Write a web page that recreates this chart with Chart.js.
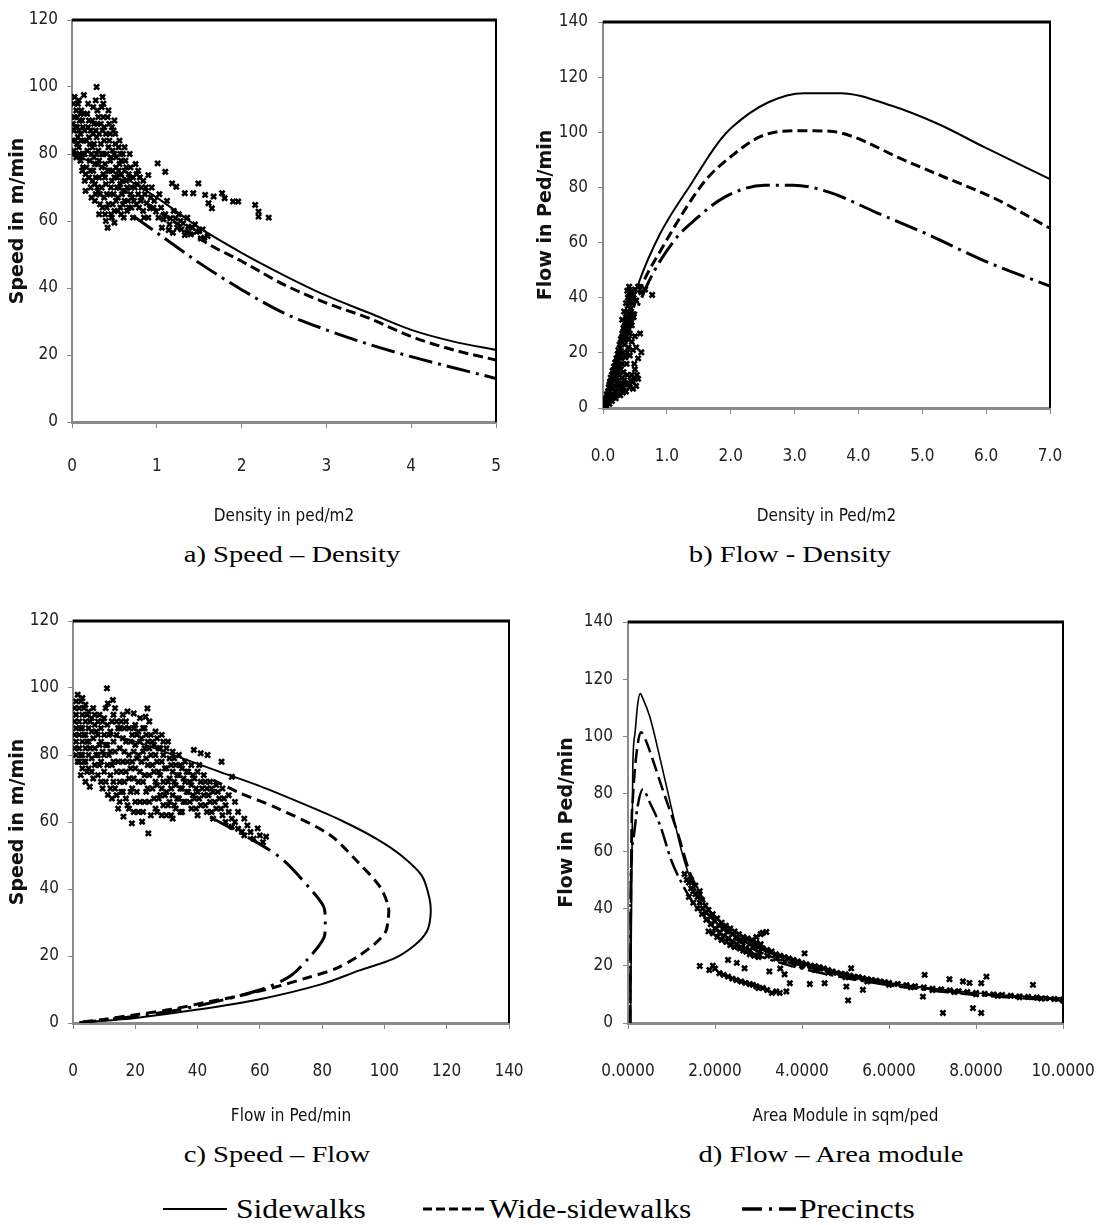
<!DOCTYPE html>
<html><head><meta charset="utf-8">
<script src="https://cdn.jsdelivr.net/npm/chart.js@4.4.1/dist/chart.umd.min.js"></script>
<style>
html,body{margin:0;padding:0;background:#fff;}
body{width:1096px;height:1225px;position:relative;overflow:hidden;}
canvas{position:absolute;}
.cap{position:absolute;font-family:'Liberation Serif','Times New Roman',serif;font-size:24px;line-height:28px;color:#000;white-space:nowrap;}
.cap span{display:inline-block;transform:translateX(-50%) scaleX(1.19);}
.leg{position:absolute;top:1194px;font-family:'Liberation Serif','Times New Roman',serif;font-size:27px;line-height:30px;color:#000;white-space:nowrap;transform:scaleX(1.17);transform-origin:left center;}
svg{position:absolute;}
</style></head><body>
<canvas id="ca" width="535" height="532" style="left:0;top:0;width:535px;height:532px"></canvas>
<canvas id="cb" width="570" height="532" style="left:535px;top:0;width:570px;height:532px"></canvas>
<canvas id="cc" width="562" height="532" style="left:0;top:600px;width:562px;height:532px"></canvas>
<canvas id="cd" width="598" height="532" style="left:535px;top:600px;width:598px;height:532px"></canvas>
<div class="cap" style="left:292px;top:540px"><span>a) Speed – Density</span></div>
<div class="cap" style="left:790px;top:540px"><span>b) Flow - Density</span></div>
<div class="cap" style="left:277px;top:1140px"><span>c) Speed – Flow</span></div>
<div class="cap" style="left:831px;top:1140px"><span>d) Flow – Area module</span></div>
<svg style="left:160px;top:1201px" width="80" height="16"><line x1="3" y1="8" x2="67" y2="8" stroke="#000" stroke-width="2"/></svg>
<div class="leg" style="left:236px">Sidewalks</div>
<svg style="left:420px;top:1201px" width="80" height="16"><line x1="3" y1="8" x2="67" y2="8" stroke="#000" stroke-width="3" stroke-dasharray="9 4"/></svg>
<div class="leg" style="left:489px">Wide-sidewalks</div>
<svg style="left:740px;top:1201px" width="70" height="16"><line x1="2" y1="8" x2="56" y2="8" stroke="#000" stroke-width="3.5" stroke-dasharray="20 7 3 7"/></svg>
<div class="leg" style="left:799px">Precincts</div>
<script>
// ---------- tick values ----------
const aXTicks = [0,1,2,3,4,5];
const aYTicks = [0,20,40,60,80,100,120];
const bXTicks = [0,1,2,3,4,5,6,7];
const bYTicks = [0,20,40,60,80,100,120,140];
const cXTicks = [0,20,40,60,80,100,120,140];
const cYTicks = [0,20,40,60,80,100,120];
const dXTicks = [0,2,4,6,8,10];
const dYTicks = [0,20,40,60,80,100,120,140];

// ---------- a) Speed - Density ----------
const aSideDensity = [0,0.5,1,1.5,2,2.5,3,3.5,4,4.5,5];
const aSideSpeed   = [80,74.5,67,58,50.5,43.8,37.7,32.6,27.5,24,21.5];
const aWideDensity = [0.9,1.25,1.63,2,2.5,3,3.5,4,4.5,5];
const aWideSpeed   = [65,59,52.8,48,41,35.5,31,25.5,21.5,18.5];
const aPrecDensity = [0.72,1,1.5,2,2.5,3,3.5,4,4.5,5];
const aPrecSpeed   = [61.5,56.5,47.5,39.5,32.5,27.5,23.2,19.5,16.2,13];
const aObserved = [
[0.02,95],[0.03,91],[0.02,87],[0.04,84],[0.02,81],[0.05,93],[0.06,88],[0.07,85],[0.05,79],[0.08,96],[0.09,90],[0.1,86],[0.08,82],[0.1,78],[0.12,75],[0.11,93],[0.13,88],[0.14,84],[0.13,80],[0.15,72],[0.16,69],[0.17,76],[0.14,97.6],
[0.18,92],[0.19,88],[0.2,85],[0.18,81],[0.21,78],[0.2,73],[0.22,70],[0.23,67],[0.24,90],[0.25,86],[0.24,82],[0.26,79],[0.25,75],[0.27,71],[0.28,68],[0.29,100],[0.28,96],[0.3,93],[0.3,89],[0.29,85],[0.31,81],[0.3,77],[0.32,73],[0.31,69],[0.33,65],[0.32,62],
[0.36,97],[0.35,94],[0.37,91],[0.36,87],[0.38,84],[0.35,80],[0.39,77],[0.37,74],[0.4,71],[0.38,67],[0.41,64],[0.4,60],[0.42,58],[0.43,93],[0.44,89],[0.45,86],[0.43,82],[0.46,79],[0.44,75],[0.47,72],[0.45,68],[0.48,65],[0.47,61],[0.5,90],[0.49,87],[0.51,83],[0.5,80],[0.52,76],[0.5,73],[0.53,70],[0.52,66],[0.54,63],[0.5,59.5],
[0.56,84],[0.57,80],[0.56,77],[0.58,74],[0.57,71],[0.59,68],[0.6,65],[0.58,62],[0.62,82],[0.63,78],[0.62,75],[0.64,72],[0.63,69],[0.66,66],[0.65,63],[0.68,80],[0.69,76],[0.68,73],[0.7,70],[0.71,67],[0.7,64],[0.72,61],
[0.75,77],[0.76,74],[0.77,71],[0.78,68],[0.76,65],[0.8,73],[0.82,70],[0.81,66],[0.84,63],[0.86,68],[0.88,65.3],[0.9,73.7],[0.92,63.8],[0.94,70],
[0.97,66],[0.99,62.8],[1.01,77.2],[1.03,68],[1.05,64],[1.08,60.5],[1.1,74.7],[1.12,66],[1.14,57.3],[1.16,60.8],[1.18,71.2],[1.2,63],[1.22,60.8],[1.23,70.2],[1.26,62],[1.29,57.5],[1.31,59.3],[1.33,55.8],[1.33,68.3],[1.36,61],[1.37,58.3],[1.4,56],[1.43,68.3],[1.45,59],[1.47,56.8],[1.49,71.2],[1.52,54.8],[1.54,57.5],[1.57,67.8],[1.6,55.5],[1.61,65.3],[1.65,63.8],[1.67,67.3],[1.77,68.3],[1.8,66.8],[1.9,65.8],[1.96,65.8],[2.16,64.8],[2.2,62.8],[2.2,61.3],[2.32,61],
[0.01,89],[0.01,84],[0.03,97],[0.04,88],[0.04,80],[0.06,91],[0.06,83],[0.07,95],[0.08,87],[0.09,80],[0.1,92],[0.11,84],[0.12,79],[0.12,90],[0.13,76],[0.14,92],[0.15,87],[0.15,80],[0.16,74],[0.17,84],
[0.19,95],[0.2,90],[0.21,83],[0.22,75],[0.22,87],[0.23,80],[0.24,72],[0.25,94],[0.26,89],[0.26,83],[0.27,77],[0.27,66],[0.28,73],[0.28,87],[0.29,80],[0.3,70],[0.31,91],[0.32,86],[0.32,78],[0.33,68],
[0.34,89],[0.34,83],[0.35,76],[0.35,70],[0.36,64],[0.37,95],[0.37,80],[0.38,88],[0.39,73],[0.39,62],[0.4,86],[0.41,80],[0.41,68],[0.42,91],[0.42,75],[0.43,65],[0.44,84],[0.45,78],[0.46,70],[0.46,62],[0.47,88],[0.48,81],[0.48,75],[0.49,68],[0.5,63],
[0.51,86],[0.52,79],[0.53,73],[0.54,67],[0.55,82],[0.55,75],[0.56,70],[0.57,64],[0.58,78],[0.59,72],[0.6,80],[0.61,69],[0.61,61],[0.62,66],[0.64,76],[0.65,70],[0.67,74],[0.67,64],[0.69,68],[0.72,73],[0.73,66],[0.74,70],
[0.78,75],[0.79,64],[0.82,67],[0.84,72],[0.85,61],[0.87,70],[0.9,61],[0.93,67],[0.96,64],
[1.02,61],[1.06,58],[1.1,62],[1.15,59],[1.19,56.5],[1.24,58],[1.28,60],[1.35,56.5],[1.42,58],[1.5,57],[1.56,55]
];

// ---------- b) Flow - Density ----------
const bSideDensity = [0,0.25,0.55,0.89,1.4,1.79,2.02,2.59,3.15,3.72,4.51,5.25,5.98,7];
const bSideFlow    = [0,22,44.8,63,82,95.8,101.8,110.9,114.2,114.2,109.7,103,94.5,83];
const bWideDensity = [0,0.3,0.6,0.95,1.34,1.62,1.94,2.47,3.04,3.55,3.94,4.62,5.36,6.1,7];
const bWideFlow    = [0,24,44,59,74,83,90,98.5,100.6,100.4,98.2,90.9,83.6,76.4,65.2];
const bPrecDensity = [0,0.3,0.7,1.11,1.45,1.9,2.53,2.98,3.55,4.28,5.08,5.98,7];
const bPrecFlow    = [0,21,45,60.6,68.5,76.4,80.8,80.8,78.2,70.9,63,53.3,44.2];
const bObserved = [
[0.02,1],[0.03,2.5],[0.05,3.5],[0.06,5],[0.08,6],[0.09,7.5],[0.1,8.5],[0.11,9.5],[0.12,11],[0.13,10],[0.14,12],[0.15,13.5],[0.16,12.5],[0.17,15],[0.18,14],[0.19,16.5],[0.2,15.5],[0.21,18],[0.22,17],[0.23,19.5],[0.24,21],[0.25,20],[0.26,23],[0.27,22],[0.28,25],[0.29,24],[0.3,27],[0.31,26],[0.32,29],[0.33,28],[0.34,31],[0.35,30],[0.36,33],[0.37,32],[0.38,35],[0.38,42.5],[0.39,37],[0.4,34],[0.41,40.5],[0.42,38],[0.43,36],[0.44,40],[0.45,42],[0.46,38],[0.48,41],[0.5,43],[0.52,39],[0.55,44],[0.6,42],[0.66,43],[0.77,41],
[0.05,1],[0.08,2],[0.1,1.5],[0.12,3],[0.14,2.5],[0.15,5],[0.17,4],[0.2,3.5],[0.21,6],[0.23,5],[0.25,8],[0.27,4.6],[0.28,7],[0.3,9],[0.32,7.6],[0.35,8.5],[0.4,9],[0.43,10],[0.47,9.5],[0.5,10.5],[0.55,10.6],[0.53,12],
[0.18,8],[0.22,10],[0.25,12],[0.28,14],[0.3,16],[0.32,13],[0.35,18.4],[0.37,16],[0.38,20.2],[0.4,22],[0.42,19],[0.45,24],[0.47,21],[0.49,16],[0.5,26],[0.52,22],[0.55,18],[0.6,20.2],[0.58,27],[0.45,30],[0.48,33],[0.42,27],
[0.04,3],[0.07,4.5],[0.1,6],[0.13,8],[0.16,10],[0.19,12],[0.22,14],[0.25,16],[0.28,18],[0.31,20],[0.34,23],[0.36,25],[0.39,28],[0.41,30],[0.43,32],[0.44,35],[0.46,34],[0.39,40],[0.41,44],[0.43,42],[0.36,38],[0.33,35],[0.3,32],[0.35,26],[0.38,30],[0.4,25],[0.2,11],[0.23,13],[0.26,15],[0.11,4],[0.15,7],[0.18,6],[0.24,9],[0.3,11],[0.33,10],[0.38,12],[0.45,12],[0.5,14],[0.52,8],[0.47,7],[0.42,7.5],[0.36,6],[0.31,5.5]
];

// ---------- c) Speed - Flow ----------
const cSideFlow  = [12,20.1,33.4,46.7,60,75.5,86.5,97.6,105.4,112,114.5,114.8,113.6,109.7,103,92,79.9,60,40,20.1,3.5];
const cSideSpeed = [86,84,79.6,75.1,70.7,64.8,60.3,54.9,50,44,37,32,27.3,23.2,19.2,15.7,11.6,7.1,4,1.5,0.2];
const cWideFlow  = [45,53.3,65.4,82.1,91,98.7,101.3,101.2,100.4,97.6,92,84.3,75.5,64.4,53.3,42.3,31.2,20.1,9.1,2];
const cWideSpeed = [72.5,68.8,64.2,56.4,48.5,40.5,34.5,31,27.3,24.2,20.2,16.2,13.6,10.6,8.1,6.1,4,2.5,1,0.2];
const cPrecFlow  = [44,60,67.7,76.6,80.5,81,80.5,75.5,69.9,62.2,53.3,42.3,31.2,20.1,9.1,2];
const cPrecSpeed = [61.5,53.4,48.5,39.6,34.7,30.3,25.3,19.2,14.1,10.6,8.1,5.6,3.5,2,0.8,0.1];
const cObserved = [
[1,96],[1,92],[1,88],[1,84],[1,80],[2,94],[2,90],[2,86],[2,82],[2,78],[3,97],[3,92],[3,88],[3,84],[3,80],[3,76],[4,95],[4,90],[4,86],[4,82],[4,78],[4,72],[5,93],[5,88],[5,84],[5,80],[5,76],[5.4,70.5],[6,91],[6,87],[6,79],[6,75],[7,89],[7,92],[7,82],[7,77],[8,90],[8,86],[8,80],[8,74],
[9,88],[9,84],[9,78],[9,72],[10,91],[10,86],[10,80],[10,75],[10.9,99.9],[11,89],[11,83],[11,77],[11.2,95.4],[11.2,68.1],[12,87],[12,81],[12,74],[12,70],[12.8,96.4],[13,92],[13,84],[13,78],[13,72],[14,90],[14,86],[14,75],[14,68],[15,88],[15,82],[15,72],[15,66],[16,92],[16,85],[16,78],[16,69],[16.2,61.6],
[17,90],[17,84],[17,75],[17,67],[18,88],[18,80],[18,73],[18,64],[18.9,59.6],[19,86],[19,78],[19,70],[19.5,92.4],[20,89],[20,83],[20,76],[20,66],[21,87],[21,80],[21,72],[21,63],[22,85],[22,78],[22.2,60.1],[23,88],[23,82],[23,74],[23,66],[23.3,91.4],[23.9,93.9],[24,84],[24,77],[24,70],[24.2,56.6],[25,86],[25,80],[25,62],
[26,83],[26,75],[26,67],[27,85],[27,78],[27,71],[27,63],[28,82],[28,74],[28,68],[29,80],[29,84],[29,72],[29,65],[30,82],[30,76],[30,69],[30,62],[31,79],[31,73],[31,66],[32,81],[32,75],[32,68],[32,61],[33,77],[33,71],[33,64],[34,80],[34,74],[34,67],[35,76],[35,70],[35,63],
[36,78],[36,72],[36,66],[37,75],[37,69],[38,77],[38,71],[38,64],[38.8,81.5],[39,73],[39,67],[40,75],[40,69],[40,62],[41,80.5],[41,72],[41,65],[42,74],[42,68],[43.2,80],[43,70],[43,63],[44,72],[44,66],[45,69],[45,61],[46,71],[46,64],[47.7,78],[47,67],[48,62],[48,70],[49,65],[49,60],[50,68],[50,63],
[51,73.5],[51,58.6],[51,61],[52,66],[52,60],[53,63],[53,58],[54.3,57.1],[55,61],[55,56],[56,59],[57,57],[58,55],[59.3,58.1],[60,56],[61,54],[62,55.6],
[0.5,94],[0.5,90],[0.5,86],[0.5,82],[1.5,98],[1.5,78],[2.5,96],[2.5,88],[2.5,80],[2.5,74],[3.5,94],[3.5,86],[3.5,78],[4.5,92],[4.5,84],[4.5,75],[5.5,90],[5.5,82],[6.5,94],[6.5,85],[6.5,73],[7.5,87],[7.5,80],[8.5,92],[8.5,83],[8.5,77],[9.5,90],[9.5,81],[9.5,70],
[10.5,94],[10.5,83],[10.5,72],[11.5,86],[11.5,80],[12.5,90],[12.5,77],[12.5,67],[13.5,94],[13.5,81],[13.5,70],[14.5,88],[14.5,78],[14.5,64],[15.5,90],[15.5,75],[15.5,69],[16.5,88],[16.5,81],[16.5,72],[17.5,93],[17.5,78],[17.5,65],[18.5,84],[18.5,76],[18.5,69],[19.5,88],[19.5,81],[19.5,73],[19.5,63],
[20.5,86],[20.5,79],[20.5,69],[21.5,91],[21.5,84],[21.5,75],[21.5,66],[22.5,88],[22.5,81],[22.5,72],[22.5,63],[23.5,86],[23.5,79],[23.5,69],[24.5,90],[24.5,82],[24.5,74],[24.5,66],[25.5,84],[25.5,77],[25.5,70],[26.5,87],[26.5,80],[26.5,72],[26.5,64],[27.5,82],[27.5,75],[27.5,67],[28.5,86],[28.5,78],[28.5,70],[28.5,62],[29.5,76],[29.5,68],
[30.5,84],[30.5,72],[30.5,65],[31.5,77],[31.5,70],[31.5,62],[32.5,79],[32.5,72],[32.5,65],[33.5,74],[33.5,67],[34.5,77],[34.5,70],[34.5,63],[35.5,73],[35.5,66],[36.5,75],[36.5,69],[37.5,72],[37.5,66],[38.5,74],[38.5,68],[39.5,70],[39.5,64],[40.5,77],[40.5,67],[41.5,70],[42.5,72],[42.5,65],[43.5,68],[44.5,70],[44.5,63],[45.5,66],[46.5,69],[47.5,64],[48.5,67]
];

// ---------- d) Flow - Area module ----------
const dSideArea = [0.06,0.11,0.16,0.22,0.28,0.35,0.5,0.75,1,1.25,1.5,2,2.5,3,3.5,4,5,6,7,8,9,10];
const dSideFlow = [0,89,101,111,115,113,107,91.5,75,59,48,37,30,26,23,21,17,14,12,10.5,9.4,8.7];
const dWideArea = [0.05,0.08,0.11,0.18,0.3,0.4,0.5,0.83,1.15,1.4,1.7,2,2.5,3,3.5,4,5,6,7,8,9,10];
const dWideFlow = [0,66,78,92,101.5,99,95,80,66,53.5,44,36,29,25,22,20,16.5,13.8,11.8,10.2,9,8.2];
const dPrecArea = [0.05,0.06,0.08,0.14,0.22,0.34,0.5,0.75,0.99,1.23,1.5,2,2.5,3,3.5,4,5,6,7,8,9,10];
const dPrecFlow = [0,43,57,66,75.5,81.5,77,68.5,57,49,42,33.5,27.5,23.5,21,19,15.7,13.2,11.3,9.8,8.7,7.8];
const dObserved = [
[1.3,52],[1.35,50],[1.4,49],[1.45,47],[1.5,46],[1.55,45],[1.6,44],[1.65,42],[1.7,43],[1.72,40],[1.78,41],[1.8,38.5],[1.85,39.5],[1.9,37],[1.95,38],[2.0,35.5],[2.05,36.5],[2.1,34],[2.15,35],[2.2,33],[2.25,34],[2.3,32],[2.35,33],[2.4,31],[2.45,32],[2.5,30],[2.55,31],[2.6,29],[2.65,30],[2.7,28.5],[2.75,29.5],[2.8,27.5],[2.85,28.5],[2.9,27],[2.95,28],[3.0,26.5],[3.05,27.5],[3.1,26],[3.2,25.5],[3.3,25],[3.4,24],[3.5,23.5],[3.6,23],[3.7,22.5],[3.8,22],[3.9,21.5],[4.0,21],[4.1,20.5],[4.2,20],[4.3,19.8],[4.4,19.5],[4.5,19],[4.6,18.5],[4.7,18],[4.8,17.5],[4.9,17.2],[5.0,17],[5.1,16.5],[5.2,16.2],[5.3,16],[5.4,15.6],[5.5,15.3],[5.6,15],[5.7,14.8],[5.8,14.5],[5.9,14.2],[6.0,14],[6.2,13.6],[6.4,13.2],[6.6,12.8],[6.8,12.4],[7.0,12],[7.2,11.7],[7.4,11.4],[7.6,11.1],[7.8,10.8],[8.0,10.5],[8.2,10.2],[8.4,10],[8.6,9.8],[8.8,9.5],[9.0,9.3],[9.2,9.1],[9.4,8.9],[9.6,8.6],[9.8,8.4],[10.0,8.2],
[1.85,32],[1.95,31.3],[2.05,30],[2.15,29],[2.26,28.3],[2.35,27.2],[2.45,26.5],[2.57,26],[2.65,25.3],[2.72,24.9],[2.8,24],[2.9,23.5],[3.0,23],
[2.85,29],[2.95,30],[3.05,31],[3.1,31.5],[3.18,31.8],
[1.65,19.9],[1.87,18.5],[1.95,20],[2.0,19],[2.1,17.4],[2.2,16.8],[2.3,16.2],[2.4,15.5],[2.49,15],[2.6,14.5],[2.68,19.1],[2.7,14],[2.8,13.6],[2.87,13.3],[2.95,12.8],[3.0,12.2],[3.1,12.2],[3.2,11.5],[3.31,10.5],[3.41,11],[3.49,10.5],[3.64,11],[3.72,13.9],
[4.06,24.3],[4.18,13.6],[4.52,13.9],[5.02,12.7],[5.13,19.1],[5.06,7.9],[5.4,11.6],[6.78,9.2],[6.82,16.8],[7.24,3.5],[7.39,15.3],[7.7,14.5],[7.85,14],[7.93,5.2],[8.12,3.5],[8.12,13.9],[8.24,16.2],[9.31,13.3],[3.25,18],[3.5,19],[3.6,17],[2.5,21],[2.3,22],
[1.4,44],[1.5,42],[1.6,40],[1.7,38],[1.8,36],[1.9,34.5],[2.0,33],[2.1,31.5],[2.2,30.5],[2.3,29.5],[2.4,28.5],[2.5,27.5],[2.6,26.5],[2.7,26],[2.8,25.5],[3.0,24.5],[3.2,23.5],[3.4,22.5],[3.6,21.5],[3.8,20.5],[4.0,20],[4.3,18.5],[4.6,17.5],[5.0,16],[5.5,14.5],[6.0,13.3],[6.5,12.5],[7.0,11.5],[7.5,10.8],[8.0,10],[8.5,9.5],[9.0,9],[9.5,8.5],[10,7.8],[1.55,48],[1.45,50],[1.65,46]
];

// ---------- rendering ----------
const NARROW = "'Liberation Sans Narrow','DejaVu Sans Condensed','Roboto Condensed','Liberation Sans',sans-serif";
const framePlugin = {
  id: 'frame',
  afterDatasetsDraw(chart) {
    const {ctx, chartArea: {left, top, right, bottom}} = chart;
    ctx.save();
    ctx.strokeStyle = '#000';
    ctx.lineWidth = 3;
    ctx.beginPath(); ctx.moveTo(left, top); ctx.lineTo(right + 1, top); ctx.stroke();
    ctx.lineWidth = 2;
    ctx.beginPath(); ctx.moveTo(right, top); ctx.lineTo(right, bottom); ctx.stroke();
    ctx.restore();
  }
};
const pts = (xs, ys) => xs.map((v, i) => ({x: v, y: ys[i]}));

function makeChart(id, c) {
  const ds = [{
    label: 'Observed',
    data: c.obs.map(p => ({x: p[0], y: p[1]})),
    pointStyle: 'crossRot', pointRadius: 3.6, borderWidth: 2.6,
    borderColor: '#000', backgroundColor: '#000', showLine: false, order: 2
  }];
  c.lines.forEach(L => ds.push({
    label: L.name, data: pts(L.x, L.y), showLine: true,
    borderColor: '#000', borderWidth: L.w, borderDash: L.dash, borderCapStyle: 'butt',
    pointRadius: 0, fill: false,
    tension: c.mono ? 0 : 0.3,
    cubicInterpolationMode: c.mono ? 'monotone' : 'default', order: 1
  }));
  new Chart(document.getElementById(id), {
    type: 'scatter',
    data: {datasets: ds},
    options: {
      responsive: false, animation: false, events: [],
      layout: {padding: c.pad},
      plugins: {legend: {display: false}, tooltip: {enabled: false}},
      scales: {
        x: {
          type: 'linear', min: c.xr[0], max: c.xr[1],
          afterBuildTicks: s => { s.ticks = c.xt.map(v => ({value: v})); },
          afterFit: s => { s.height = c.xh; },
          ticks: {callback: c.xfmt, font: {family: NARROW, size: 17}, color: '#222', padding: c.xpad, maxRotation: 0, autoSkip: false},
          grid: {display: true, drawOnChartArea: false, drawTicks: true, tickLength: 6, color: '#888', tickColor: '#888'},
          border: {display: true, color: '#8a8a8a', width: 3},
          title: {display: true, text: c.xtitle, font: {family: NARROW, size: 17}, color: '#111', padding: {top: 0, bottom: 5}}
        },
        y: {
          type: 'linear', min: c.yr[0], max: c.yr[1],
          afterBuildTicks: s => { s.ticks = c.yt.map(v => ({value: v})); },
          afterFit: s => { s.width = c.yw; },
          ticks: {font: {family: NARROW, size: 17}, color: '#222', padding: c.ypad, autoSkip: false},
          grid: {display: true, drawOnChartArea: false, drawTicks: true, tickLength: 5, color: '#888', tickColor: '#888'},
          border: {display: true, color: '#8a8a8a', width: 2},
          title: {display: true, text: c.ytitle, font: {family: "'DejaVu Sans',Verdana,sans-serif", size: 19, weight: 'bold'}, color: '#111', padding: {top: c.ytp, bottom: 0}}
        }
      }
    },
    plugins: [framePlugin]
  });
}

const solid = [], dashed = [10, 5], dashdot = [24, 6, 3, 6];

makeChart('ca', {
  obs: aObserved, mono: true,
  lines: [
    {name: 'Sidewalks', x: aSideDensity, y: aSideSpeed, w: 2, dash: solid},
    {name: 'Wide-sidewalks', x: aWideDensity, y: aWideSpeed, w: 3, dash: dashed},
    {name: 'Precincts', x: aPrecDensity, y: aPrecSpeed, w: 3, dash: dashdot}
  ],
  pad: {left: 0, top: 20, right: 39, bottom: 0},
  xr: [0, 5], yr: [0, 120], xt: aXTicks, yt: aYTicks,
  xfmt: v => String(v), xh: 110, yw: 72, xpad: 28, ypad: 9, ytp: 7,
  xtitle: 'Density in ped/m2', ytitle: 'Speed in m/min'
});
makeChart('cb', {
  obs: bObserved, mono: true,
  lines: [
    {name: 'Sidewalks', x: bSideDensity, y: bSideFlow, w: 2, dash: solid},
    {name: 'Wide-sidewalks', x: bWideDensity, y: bWideFlow, w: 3, dash: dashed},
    {name: 'Precincts', x: bPrecDensity, y: bPrecFlow, w: 3, dash: dashdot}
  ],
  pad: {left: 0, top: 22, right: 55, bottom: 0},
  xr: [0, 7], yr: [0, 140], xt: bXTicks, yt: bYTicks,
  xfmt: v => Number(v).toFixed(1), xh: 124, yw: 68, xpad: 32, ypad: 10, ytp: 0,
  xtitle: 'Density in Ped/m2', ytitle: 'Flow in Ped/min'
});
makeChart('cc', {
  obs: cObserved, mono: false,
  lines: [
    {name: 'Sidewalks', x: cSideFlow, y: cSideSpeed, w: 2, dash: solid},
    {name: 'Wide-sidewalks', x: cWideFlow, y: cWideSpeed, w: 3, dash: [10, 6]},
    {name: 'Precincts', x: cPrecFlow, y: cPrecSpeed, w: 3, dash: [26, 7, 3, 7]}
  ],
  pad: {left: 0, top: 21, right: 53, bottom: 0},
  xr: [0, 140], yr: [0, 120], xt: cXTicks, yt: cYTicks,
  xfmt: v => String(v), xh: 109, yw: 73, xpad: 32, ypad: 9, ytp: 7,
  xtitle: 'Flow in Ped/min', ytitle: 'Speed in m/min'
});
makeChart('cd', {
  obs: dObserved, mono: true,
  lines: [
    {name: 'Sidewalks', x: dSideArea, y: dSideFlow, w: 1.6, dash: solid},
    {name: 'Wide-sidewalks', x: dWideArea, y: dWideFlow, w: 2.5, dash: [14, 6]},
    {name: 'Precincts', x: dPrecArea, y: dPrecFlow, w: 2.5, dash: [18, 5, 3, 5]}
  ],
  pad: {left: 0, top: 22, right: 70, bottom: 0},
  xr: [0, 10], yr: [0, 140], xt: dXTicks, yt: dYTicks,
  xfmt: v => Number(v).toFixed(4), xh: 109, yw: 93, xpad: 32, ypad: 10, ytp: 21,
  xtitle: 'Area Module in sqm/ped', ytitle: 'Flow in Ped/min'
});
</script>
</body></html>
